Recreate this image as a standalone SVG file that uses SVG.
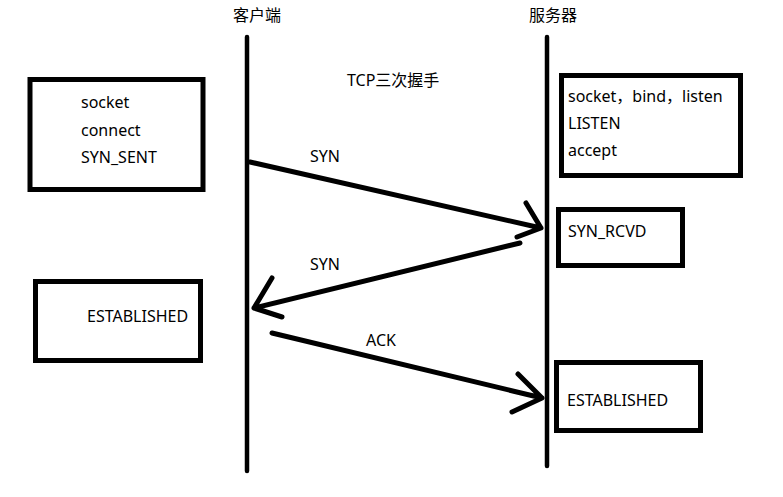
<svg xmlns="http://www.w3.org/2000/svg" width="783" height="497" viewBox="0 0 783 497">
<style>
.box{fill:#fff;stroke:#000;stroke-width:5}
.life{stroke:#000;stroke-width:4.5;stroke-linecap:round}
.arr{fill:none;stroke:#000;stroke-width:5;stroke-linecap:round;stroke-linejoin:round}
text{font-family:"Noto Sans","Noto Sans CJK SC",sans-serif;font-size:16px;fill:#000}
</style>
<rect width="783" height="497" fill="#fff"/>
<g id="client">
<text x="257" y="21" text-anchor="middle">客户端</text>
<line class="life" x1="247" y1="37" x2="247" y2="471"/>
</g>
<g id="server">
<text x="553" y="21" text-anchor="middle">服务器</text>
<line class="life" x1="547" y1="37" x2="547" y2="466"/>
</g>
<g id="title"><text x="347" y="86">TCP三次握手</text></g>
<g id="client-box1">
<rect class="box" x="30" y="79.5" width="173" height="110"/>
<text x="81" y="108">socket</text>
<text x="81" y="136">connect</text>
<text x="81" y="163">SYN_SENT</text>
</g>
<g id="server-box1">
<rect class="box" x="561.5" y="75.5" width="179" height="100"/>
<text x="568" y="102">socket，bind，listen</text>
<text x="568" y="129">LISTEN</text>
<text x="568" y="156">accept</text>
</g>
<g id="server-box2">
<rect class="box" x="558.5" y="209.5" width="124" height="56"/>
<text x="568" y="237">SYN_RCVD</text>
</g>
<g id="client-box2">
<rect class="box" x="35.5" y="281.5" width="165" height="79"/>
<text x="87" y="322">ESTABLISHED</text>
</g>
<g id="server-box3">
<rect class="box" x="556.5" y="362.5" width="144" height="68"/>
<text x="567" y="406">ESTABLISHED</text>
</g>
<g id="connectors">
<path class="arr" d="M250 162 L541 228 M526 203 L541 228 L517 237"/>
<path class="arr" d="M520 243 L254 308 M272 278 L254 308 L282 317"/>
<path class="arr" d="M272 333 L542 398 M518 374 L542 398 L512 412"/>
<text x="310" y="162">SYN</text>
<text x="310" y="270">SYN</text>
<text x="366" y="346">ACK</text>
</g>
</svg>
